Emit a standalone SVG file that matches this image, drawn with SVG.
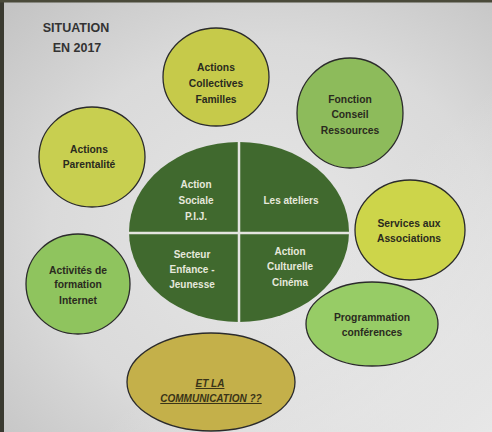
<svg xmlns="http://www.w3.org/2000/svg" width="492" height="432" viewBox="0 0 492 432">
<defs>
<radialGradient id="bg" cx="0.55" cy="0.55" r="0.75">
<stop offset="0" stop-color="#e6e6e6"/>
<stop offset="0.6" stop-color="#dadada"/>
<stop offset="1" stop-color="#c4c4c4"/>
</radialGradient>
<linearGradient id="br" x1="0" y1="0" x2="1" y2="1">
<stop offset="0.6" stop-color="#eeeeee" stop-opacity="0"/>
<stop offset="1" stop-color="#eeeeee" stop-opacity="0.8"/>
</linearGradient>
<style>
.c{stroke:#2b2b2b;stroke-width:1.3}
.t{font-family:"Liberation Sans",Arial,sans-serif;font-weight:bold;font-size:10.3px;fill:#2a2a1e;text-anchor:middle}
.w{font-family:"Liberation Sans",Arial,sans-serif;font-weight:bold;font-size:10px;fill:#e6e8dc;text-anchor:middle}
.ti{font-family:"Liberation Sans",Arial,sans-serif;font-weight:bold;font-size:12.5px;fill:#333333;text-anchor:middle}
.u{font-family:"Liberation Sans",Arial,sans-serif;font-weight:bold;font-style:italic;font-size:10px;fill:#3a3418;text-anchor:middle;text-decoration:underline}
</style>
</defs>
<rect x="0" y="0" width="492" height="432" fill="url(#bg)"/>
<rect x="0" y="0" width="492" height="432" fill="url(#br)"/>
<rect x="0" y="0" width="4" height="432" fill="#3a3a30"/>
<rect x="0" y="0" width="492" height="2.5" fill="#4a4a3a"/>
<g id="title">
<text class="ti" x="76" y="31.5">SITUATION</text>
<text class="ti" x="77" y="51.5">EN 2017</text>
</g>
<g id="connectors"/>
<g id="actions-collectives">
<ellipse class="c" cx="216" cy="77" rx="53" ry="49" fill="#c6ca4a"/>
<text class="t" x="216" y="71">Actions</text>
<text class="t" x="216" y="87">Collectives</text>
<text class="t" x="216" y="103">Familles</text>
</g>
<g id="fonction-conseil">
<ellipse class="c" cx="350" cy="113" rx="53" ry="55" fill="#8dbb5b"/>
<text class="t" x="350" y="103">Fonction</text>
<text class="t" x="350" y="118">Conseil</text>
<text class="t" x="350" y="134">Ressources</text>
</g>
<g id="actions-parentalite">
<ellipse class="c" cx="92" cy="157" rx="53" ry="50" fill="#c8cf50"/>
<text class="t" x="89" y="153">Actions</text>
<text class="t" x="89" y="168">Parentalité</text>
</g>
<g id="centre">
<ellipse cx="239" cy="232" rx="110" ry="90" fill="#40692e"/>
<line x1="239" y1="141" x2="239" y2="323" stroke="#e4e4e0" stroke-width="2.5"/>
<line x1="128" y1="233" x2="350" y2="233" stroke="#e4e4e0" stroke-width="2.5"/>
<text class="w" x="196" y="188">Action</text>
<text class="w" x="196" y="204">Sociale</text>
<text class="w" x="196" y="220">P.I.J.</text>
<text class="w" x="291" y="204">Les ateliers</text>
<text class="w" x="192" y="258">Secteur</text>
<text class="w" x="192" y="273">Enfance -</text>
<text class="w" x="192" y="288">Jeunesse</text>
<text class="w" x="290" y="255">Action</text>
<text class="w" x="290" y="270">Culturelle</text>
<text class="w" x="290" y="286">Cinéma</text>
</g>
<g id="services-associations">
<ellipse class="c" cx="410" cy="230" rx="55" ry="50" fill="#cdd54a"/>
<text class="t" x="409" y="227">Services aux</text>
<text class="t" x="409" y="242">Associations</text>
</g>
<g id="activites-formation">
<ellipse class="c" cx="78" cy="284" rx="52" ry="50" fill="#8fc45e"/>
<text class="t" x="78" y="274">Activités de</text>
<text class="t" x="78" y="288">formation</text>
<text class="t" x="78" y="304">Internet</text>
</g>
<g id="programmation">
<ellipse class="c" cx="372" cy="324" rx="66" ry="42" fill="#97cc66"/>
<text class="t" x="372" y="321">Programmation</text>
<text class="t" x="372" y="336">conférences</text>
</g>
<g id="communication">
<ellipse class="c" cx="211" cy="382" rx="84" ry="49" fill="#c4b04a"/>
<text class="u" x="210" y="387">ET  LA</text>
<text class="u" x="211" y="402">COMMUNICATION ??</text>
</g>
</svg>
